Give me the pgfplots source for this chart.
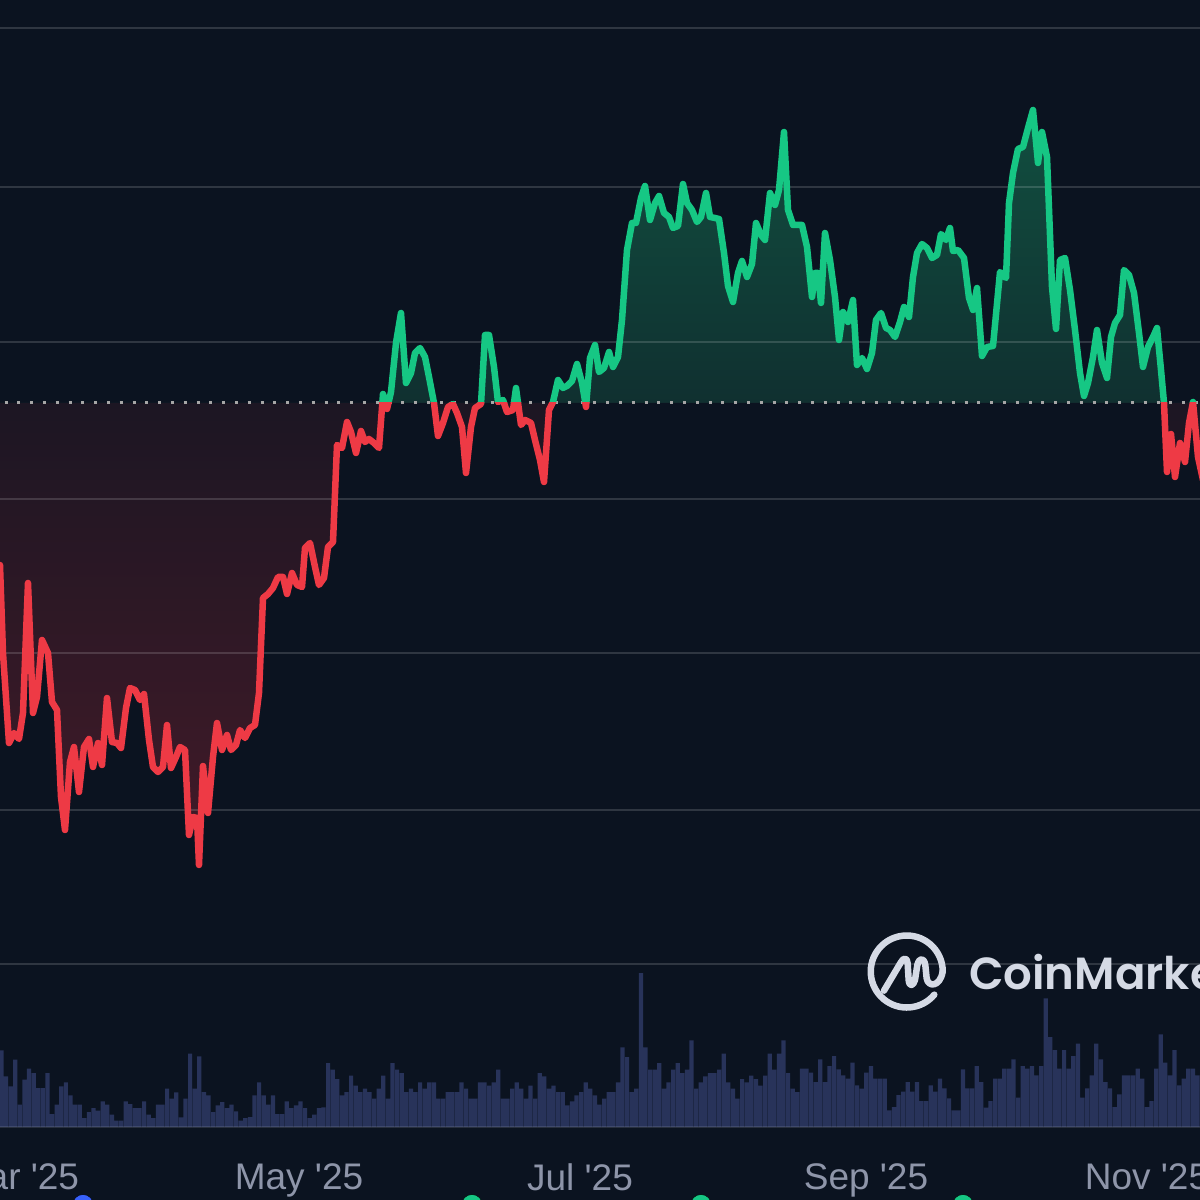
\documentclass[border=0pt]{standalone}
\usepackage{fontspec}
\usepackage{pgfplots}
\usepackage{pgfplotstable}
\pgfplotsset{compat=1.18}
\setmainfont{Liberation Sans}
\newfontfamily\logofont[UprightFont=* SemiBold]{Poppins}
\definecolor{bg}{HTML}{0B1320}
\definecolor{up}{HTML}{16C784}
\definecolor{down}{HTML}{EE3A45}
\definecolor{upA}{HTML}{114F40}
\definecolor{upB}{HTML}{103030}
\definecolor{dnA}{HTML}{1C1623}
\definecolor{dnB}{HTML}{431A28}
\definecolor{vol}{HTML}{28335A}
\definecolor{tick}{HTML}{8E95A9}
\definecolor{logo}{HTML}{D5DAE5}
\definecolor{evblue}{HTML}{3861FB}
% x = horizontal position, v = height above the dotted reference line
\pgfplotstableread[row sep=\\]{
x v\\
0 -162\\ 3 -250\\ 9 -340\\ 14 -330\\ 19 -336\\ 23 -310\\ 28 -180\\ 33 -310\\ 37 -294\\ 42 -237\\
48 -250\\ 52 -299\\ 57 -307\\ 61 -394\\ 65 -427\\ 70 -359\\ 74 -344\\ 79 -389\\ 84 -344\\ 89 -336\\
93 -364\\ 98 -340\\ 102 -362\\ 107 -295\\ 112 -339\\ 117 -340\\ 121 -345\\ 126 -305\\ 130 -285\\ 135 -287\\
140 -297\\ 144 -291\\ 149 -337\\ 153 -364\\ 158 -369\\ 163 -364\\ 167 -322\\ 171 -365\\ 176 -354\\ 180 -344\\
185 -347\\ 189 -432\\ 193 -414\\ 197 -415\\ 199 -462\\ 203 -363\\ 208 -410\\ 213 -354\\ 217 -320\\ 222 -347\\
227 -332\\ 231 -347\\ 236 -342\\ 240 -327\\ 245 -335\\ 250 -325\\ 255 -322\\ 259 -290\\ 263 -195\\ 268 -191\\
273 -185\\ 278 -174\\ 283 -174\\ 287 -191\\ 292 -170\\ 297 -182\\ 302 -184\\ 305 -145\\ 310 -140\\ 315 -164\\
319 -182\\ 324 -175\\ 328 -144\\ 333 -139\\ 337 -42\\ 342 -45\\ 347 -19\\ 351 -29\\ 356 -50\\ 361 -28\\
365 -39\\ 369 -36\\ 374 -40\\ 379 -45\\ 383 9\\ 387 -6\\ 391 11\\ 396 60\\ 401 90\\ 406 20\\
411 30\\ 415 50\\ 420 55\\ 425 46\\ 429 26\\ 434 0\\ 438 -33\\ 443 -20\\ 448 -4\\ 453 -1\\
457 -10\\ 462 -24\\ 466 -70\\ 471 -24\\ 475 -5\\ 481 -1\\ 485 68\\ 489 68\\ 494 36\\ 498 1\\
503 3\\ 507 -9\\ 513 -7\\ 516 15\\ 521 -22\\ 525 -17\\ 531 -20\\ 535 -37\\ 540 -57\\ 544 -79\\
549 -7\\ 553 1\\ 558 23\\ 563 15\\ 567 17\\ 572 22\\ 577 39\\ 582 20\\ 586 -4\\ 590 45\\
595 58\\ 599 31\\ 604 35\\ 609 51\\ 613 36\\ 618 46\\ 622 83\\ 627 153\\ 632 180\\ 636 180\\
641 205\\ 645 217\\ 650 183\\ 655 200\\ 659 207\\ 664 190\\ 669 186\\ 673 175\\ 678 177\\ 683 219\\
687 200\\ 692 193\\ 697 181\\ 701 186\\ 706 210\\ 710 186\\ 715 185\\ 719 184\\ 724 150\\ 728 117\\
733 101\\ 738 130\\ 742 142\\ 747 126\\ 752 139\\ 756 180\\ 761 168\\ 765 163\\ 770 210\\ 775 198\\
779 213\\ 784 271\\ 788 193\\ 793 178\\ 798 178\\ 802 178\\ 807 156\\ 812 106\\ 815 130\\ 818 130\\
821 100\\ 825 170\\ 830 143\\ 835 106\\ 839 63\\ 843 91\\ 848 81\\ 853 103\\ 857 38\\ 862 45\\
867 34\\ 872 50\\ 876 83\\ 881 90\\ 886 75\\ 890 73\\ 895 66\\ 900 81\\ 904 96\\ 909 86\\
913 126\\ 917 150\\ 922 159\\ 927 155\\ 932 145\\ 937 148\\ 941 169\\ 946 163\\ 950 175\\ 953 152\\
958 153\\ 964 145\\ 969 105\\ 973 93\\ 977 115\\ 982 47\\ 987 56\\ 993 57\\ 1000 131\\ 1006 125\\
1009 200\\ 1013 230\\ 1018 254\\ 1023 256\\ 1028 275\\ 1033 293\\ 1038 240\\ 1042 271\\ 1047 246\\ 1052 116\\
1056 74\\ 1060 143\\ 1065 145\\ 1070 113\\ 1075 73\\ 1080 30\\ 1084 7\\ 1088 20\\ 1093 46\\ 1097 73\\
1102 40\\ 1107 25\\ 1111 66\\ 1115 80\\ 1120 88\\ 1124 133\\ 1129 128\\ 1134 110\\ 1139 70\\ 1143 36\\
1148 56\\ 1153 66\\ 1157 75\\ 1161 33\\ 1164 0\\ 1167 -69\\ 1171 -31\\ 1175 -74\\ 1180 -40\\ 1185 -59\\
1189 -20\\ 1193 1\\ 1198 -54\\ 1203 -77\\
}\pricetable
% daily volume, one bar per day
\pgfplotstableread[row sep=\\]{
h\\
230\\152\\122\\202\\67\\142\\175\\162\\117\\117\\
162\\39\\67\\122\\134\\95\\67\\67\\27\\45\\
57\\49\\77\\67\\37\\19\\19\\77\\69\\57\\
57\\77\\37\\27\\67\\67\\115\\85\\104\\29\\
85\\220\\115\\212\\105\\95\\45\\65\\75\\57\\
67\\47\\19\\27\\30\\95\\134\\95\\67\\95\\
39\\39\\77\\57\\65\\77\\57\\27\\37\\57\\
59\\192\\172\\144\\95\\105\\154\\124\\105\\115\\
105\\85\\115\\154\\85\\192\\172\\
162\\105\\115\\105\\134\\115\\134\\134\\85\\85\\
105\\105\\105\\134\\115\\85\\85\\134\\134\\124\\
134\\172\\85\\85\\115\\134\\115\\85\\124\\85\\
162\\152\\115\\124\\105\\105\\65\\77\\95\\105\\
134\\115\\95\\67\\85\\105\\105\\134\\239\\210\\
105\\115\\462\\239\\172\\172\\192\\115\\134\\172\\
192\\162\\172\\260\\115\\134\\152\\162\\162\\172\\
220\\134\\115\\85\\144\\134\\154\\144\\124\\154\\
220\\172\\220\\260\\162\\115\\105\\
175\\175\\163\\135\\203\\135\\183\\213\\173\\155\\
145\\193\\125\\115\\163\\183\\145\\145\\145\\50\\
60\\96\\106\\135\\106\\135\\78\\78\\125\\106\\
145\\116\\86\\50\\50\\173\\116\\116\\183\\135\\
58\\78\\145\\145\\175\\175\\203\\88\\183\\175\\
183\\155\\183\\386\\270\\231\\175\\231\\175\\213\\
250\\88\\116\\155\\250\\203\\135\\116\\60\\98\\
155\\155\\155\\175\\145\\60\\78\\175\\278\\193\\
155\\231\\125\\145\\175\\175\\155\\
}\voltable
\pgfplotsset{
  base/.style={
    scale only axis, anchor=south west,
    width=1200pt, xmin=0, xmax=1200,
    axis line style={draw=none},
    xtick=\empty, ytick=\empty,
    tick style={draw=none},
  },
  upper/.style={base, at={(0pt,797pt)}, height=403pt, ymin=0, ymax=403},
  lower/.style={base, at={(0pt,0pt)}, height=797pt, ymin=-797, ymax=0},
}
\begin{document}
\begin{tikzpicture}
\useasboundingbox (0pt,0pt) rectangle (1200pt,1200pt);
\clip (0pt,0pt) rectangle (1200pt,1200pt);
\fill[bg] (0pt,0pt) rectangle (1200pt,1200pt);
% area fills
\begin{axis}[upper]
\addplot[draw=none, top color=upA, bottom color=upB, restrict y to domain*=0:500] table[x=x,y=v] {\pricetable} \closedcycle;
\end{axis}
\begin{axis}[lower]
\addplot[draw=none, top color=dnA, bottom color=dnB, restrict y to domain*=-900:0] table[x=x,y=v] {\pricetable} \closedcycle;
\end{axis}
% grid, reference line, event markers
\begin{axis}[base, at={(0pt,0pt)}, height=1200pt, ymin=-797, ymax=403, clip=false,
  ytick={375,216,61,-96,-250,-407,-561}, yticklabels={},
  ymajorgrids, grid style={white, opacity=0.15, line width=2.6pt}]
\addplot[white!65!black, line width=3pt, dash pattern=on 3pt off 9.8pt, dash phase=8.3pt] coordinates {(0,0)(1200,0)};
\addplot[only marks, mark=*, mark size=10.5pt, mark options={fill=evblue,draw=none}] coordinates {(83,-802)};
\addplot[only marks, mark=*, mark size=10.5pt, mark options={fill=up,draw=none}] coordinates {(472,-802)(701,-802)(963,-802)};
\end{axis}
% volume with month labels
\begin{axis}[base, at={(0pt,73pt)}, height=300pt, ymin=0, ymax=900, clip=false,
  xtick={18,299,580,866,1147},
  xticklabels={Mar \textquotesingle25,May \textquotesingle25,Jul \textquotesingle25,Sep \textquotesingle25,Nov \textquotesingle25},
  xticklabel style={font=\fontsize{37}{37}\selectfont, text=tick, yshift=-33pt},
  ]
\addplot[ybar, bar width=4.2pt, bar shift=0pt, draw=none, fill=vol] table[x expr=\coordindex*4.6+1.5, y=h] {\voltable};
\addplot[white, opacity=0.11, line width=2.4pt] coordinates {(0,0)(1200,0)};
\end{axis}
% price line, green above and red below the reference line
\begin{axis}[upper]
\addplot[up, line width=6.5pt, line join=round, line cap=round] table[x=x,y=v] {\pricetable};
\end{axis}
\begin{axis}[lower]
\addplot[down, line width=6.5pt, line join=round, line cap=round] table[x=x,y=v] {\pricetable};
\end{axis}
% logo
\begin{scope}[shift={(800pt,300pt)}, x=0.3333pt, y=-0.3333pt]
\draw[logo, line width=6.5pt, line cap=round, line join=round]
  (403,284) arc[start angle=40, end angle=360, radius=108];
\draw[logo, line width=6.5pt, line cap=round, line join=round]
  (252,272) -- (302,188) .. controls (310,172) and (322,172) .. (323,190)
  -- (326,240) .. controls (328,262) and (340,258) .. (345,240)
  -- (352,195) .. controls (358,172) and (372,172) .. (376,195)
  -- (380,235) .. controls (384,262) and (420,262) .. (428,215);
\end{scope}
\node[anchor=base west, inner sep=0pt, text=logo] at (969pt,210pt) {\logofont\fontsize{45}{45}\selectfont CoinMarketCap};
\end{tikzpicture}
\end{document}
